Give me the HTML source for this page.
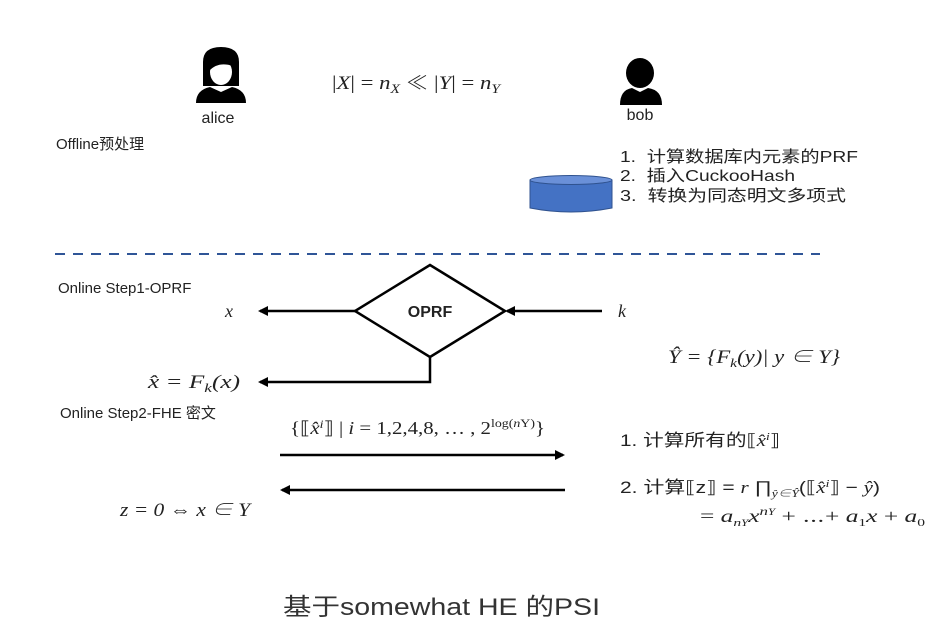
<!DOCTYPE html>
<html><head><meta charset="utf-8"><style>
html,body{margin:0;padding:0;background:#fff;}
svg{display:block;}
text{font-family:"Liberation Sans","Noto Sans CJK SC",sans-serif;fill:#222;}
.m{font-family:"Liberation Serif","Noto Serif CJK SC",serif;font-style:italic;}
.r{font-family:"Liberation Serif","Noto Serif CJK SC",serif;}
</style></head><body>
<svg width="952" height="637" viewBox="0 0 952 637">
<defs><marker id="a" markerWidth="10" markerHeight="10" refX="8" refY="5" orient="auto" markerUnits="userSpaceOnUse"><path d="M0,0 L10,5 L0,10 z" fill="#000"/></marker></defs>
<!-- alice -->
<g fill="#000">
<path d="M203,62 Q203,47 221,47 Q239,47 239,62 L239,86 L203,86 Z"/>
<ellipse cx="221" cy="72" rx="11" ry="13" fill="#fff"/>
<path d="M209,71 Q218,61 233,66 L233,59 Q222,54 209,62Z"/>
<path d="M196,103 Q196,90 210,87 L221,92 L232,87 Q246,90 246,103 Z"/>
</g>
<text x="218" y="123" font-size="16" text-anchor="middle">alice</text>
<text x="332" y="89" font-size="19" class="r" textLength="168" lengthAdjust="spacingAndGlyphs">|<tspan class="m">X</tspan>| = <tspan class="m">n</tspan><tspan class="m" font-size="13" dy="4">X</tspan><tspan dy="-4"> ≪ |</tspan><tspan class="m">Y</tspan>| = <tspan class="m">n</tspan><tspan class="m" font-size="13" dy="4">Y</tspan></text>
<!-- bob -->
<g fill="#000">
<ellipse cx="640" cy="73" rx="14" ry="15"/>
<path d="M620,105 Q620,90 632,88 L640,92 L648,88 Q662,90 662,105 Z"/>
</g>
<text x="640" y="120" font-size="16" text-anchor="middle">bob</text>
<text x="56" y="149" font-size="15">Offline预处理</text>
<text x="620" y="162" font-size="16" textLength="238" lengthAdjust="spacingAndGlyphs">1.&#160;&#160;计算数据库内元素的PRF</text>
<text x="620" y="181" font-size="16" textLength="175" lengthAdjust="spacingAndGlyphs">2.&#160;&#160;插入CuckooHash</text>
<text x="620" y="201" font-size="16" textLength="226" lengthAdjust="spacingAndGlyphs">3.&#160;&#160;转换为同态明文多项式</text>
<path d="M530,180 L530,208 Q571,216 612,208 L612,180 Z" fill="#4472C4" stroke="#2F528F"/>
<ellipse cx="571" cy="180" rx="41" ry="4.5" fill="#6A90D8" stroke="#2F528F"/>
<line x1="55" y1="254" x2="820" y2="254" stroke="#2F5597" stroke-width="2" stroke-dasharray="10,8"/>
<text x="58" y="293" font-size="15">Online Step1-OPRF</text>
<polygon points="430,265 505,311 430,357 355,311" fill="#fff" stroke="#000" stroke-width="2.5"/>
<text x="430" y="317" font-size="16" font-weight="bold" text-anchor="middle">OPRF</text>
<line x1="355" y1="311" x2="260" y2="311" stroke="#000" stroke-width="2.5" marker-end="url(#a)"/>
<text x="225" y="317" font-size="18" class="m">x</text>
<line x1="602" y1="311" x2="507" y2="311" stroke="#000" stroke-width="2.5" marker-end="url(#a)"/>
<text x="618" y="317" font-size="18" class="m">k</text>
<polyline points="430,357 430,382 260,382" fill="none" stroke="#000" stroke-width="2.5" marker-end="url(#a)"/>
<text x="148" y="388" font-size="19" class="m" textLength="92" lengthAdjust="spacingAndGlyphs">x̂ = F<tspan font-size="13" dy="4">k</tspan><tspan dy="-4">(x)</tspan></text>
<text x="668" y="363" font-size="19" class="m" textLength="172" lengthAdjust="spacingAndGlyphs">Ŷ = {F<tspan font-size="13" dy="4">k</tspan><tspan dy="-4">(y)| y ∈ Y}</tspan></text>
<text x="60" y="418" font-size="15">Online Step2-FHE 密文</text>
<text x="290" y="434" font-size="18" class="r" textLength="255" lengthAdjust="spacingAndGlyphs">{⟦<tspan class="m">x̂</tspan><tspan class="m" font-size="12" dy="-6">i</tspan><tspan dy="6">⟧ | </tspan><tspan class="m">i</tspan> = 1,2,4,8, … , 2<tspan font-size="12" dy="-7">log(<tspan class="m">n</tspan>Y)</tspan><tspan dy="7">}</tspan></text>
<line x1="280" y1="455" x2="563" y2="455" stroke="#000" stroke-width="2.5" marker-end="url(#a)"/>
<line x1="565" y1="490" x2="282" y2="490" stroke="#000" stroke-width="2.5" marker-end="url(#a)"/>
<text x="120" y="516" font-size="19" class="m" textLength="130" lengthAdjust="spacingAndGlyphs">z = 0 ⇔ x ∈ Y</text>
<text x="620" y="446" font-size="17" textLength="160" lengthAdjust="spacingAndGlyphs">1. 计算所有的⟦<tspan class="m">x̂</tspan><tspan class="m" font-size="11" dy="-6">i</tspan><tspan dy="6">⟧</tspan></text>
<text x="620" y="493" font-size="17" textLength="260" lengthAdjust="spacingAndGlyphs">2. 计算⟦z⟧ = <tspan class="m">r</tspan> ∏<tspan class="m" font-size="11" dy="4">ŷ∈Ŷ</tspan><tspan dy="-4">(⟦</tspan><tspan class="m">x̂</tspan><tspan class="m" font-size="11" dy="-6">i</tspan><tspan dy="6">⟧ − </tspan><tspan class="m">ŷ</tspan>)</text>
<text x="700" y="522" font-size="18" class="r" textLength="225" lengthAdjust="spacingAndGlyphs">= <tspan class="m">a</tspan><tspan class="m" font-size="11" dy="4">n<tspan font-size="9">Y</tspan></tspan><tspan class="m" dy="-4">x</tspan><tspan class="m" font-size="12" dy="-7">n<tspan font-size="9">Y</tspan></tspan><tspan dy="7"> + ⋯+ </tspan><tspan class="m">a</tspan><tspan font-size="11" dy="4">1</tspan><tspan class="m" dy="-4">x</tspan> + <tspan class="m">a</tspan><tspan font-size="11" dy="4">0</tspan></text>
<text x="283" y="615" font-size="24" style="fill:#333" textLength="317" lengthAdjust="spacingAndGlyphs">基于somewhat HE 的PSI</text>
</svg>
</body></html>
